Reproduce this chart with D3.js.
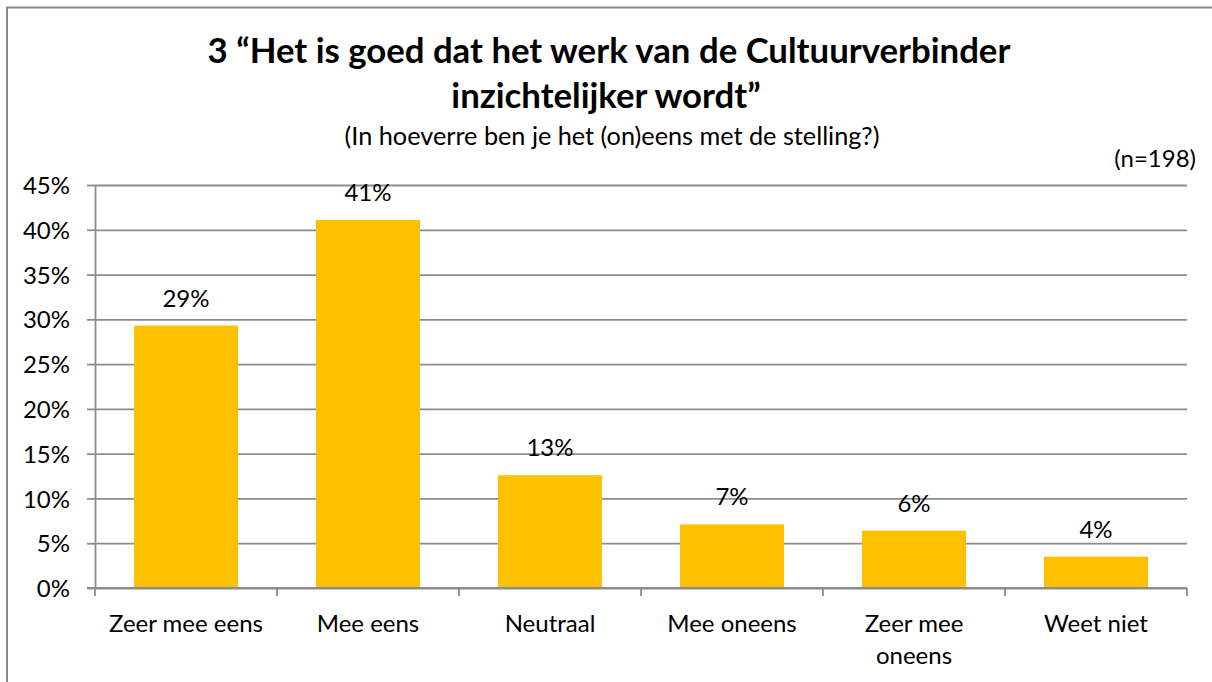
<!DOCTYPE html>
<html>
<head>
<meta charset="utf-8">
<script src="https://cdn.jsdelivr.net/npm/d3@7"></script>
<style>
  html, body { margin: 0; padding: 0; background: #fff; }
  svg { display: block; }
  text { font-family: Lato, "Noto Sans", sans-serif; fill: #000; }
</style>
</head>
<body>
<svg id="chart" width="1212" height="682"></svg>
<script>
// ---- data ----
const categories = ["Zeer mee eens", "Mee eens", "Neutraal", "Mee oneens", "Zeer mee oneens", "Weet niet"];
const values = [29.3, 41.1, 12.6, 7.1, 6.4, 3.5];
const valueLabels = ["29%", "41%", "13%", "7%", "6%", "4%"];
const yTicks = [0, 5, 10, 15, 20, 25, 30, 35, 40, 45];
const titleLines = ["3 \u201cHet is goed dat het werk van de Cultuurverbinder", "inzichtelijker wordt\u201d"];
const subtitle = "(In hoeverre ben je het (on)eens met de stelling?)";
const sampleNote = "(n=198)";

// ---- layout ----
const W = 1212, H = 682;
const plot = { left: 95, right: 1187, top: 185, bottom: 588 };
const axisFont = 24;
const gridColor = "#8c8c8c";
const barColor = "#FFC000";

const svg = d3.select("#chart");

// chart frame
svg.append("rect")
  .attr("x", 7).attr("y", 7.5)
  .attr("width", W + 50).attr("height", H + 50)
  .attr("fill", "none").attr("stroke", "#8a8a8a").attr("stroke-width", 2);

const x = d3.scaleBand()
  .domain(categories)
  .range([plot.left, plot.right])
  .paddingInner(3 / 7)
  .paddingOuter(3 / 14);

const y = d3.scaleLinear().domain([0, 45]).range([plot.bottom, plot.top]);

// gridlines
const grid = svg.append("g")
  .attr("transform", `translate(${plot.left},0)`)
  .call(d3.axisLeft(y).tickValues(yTicks).tickSizeInner(-(plot.right - plot.left)).tickSizeOuter(0).tickFormat(""));
grid.select(".domain").remove();
grid.selectAll("line").attr("stroke", gridColor).attr("stroke-width", 1.8);

// y axis with outward ticks and labels
const yAxis = svg.append("g")
  .attr("transform", `translate(${plot.left},0)`)
  .call(d3.axisLeft(y).tickValues(yTicks).tickSizeInner(8).tickSizeOuter(0).tickPadding(17).tickFormat(d => d + "%"));
yAxis.select(".domain").attr("stroke", gridColor).attr("stroke-width", 1.8);
yAxis.selectAll("line").attr("stroke", gridColor).attr("stroke-width", 1.8);
yAxis.selectAll("text")
  .style("font-size", axisFont + "px")
  .attr("dy", "0.36em")
  .style("font-family", "Lato, 'Noto Sans', sans-serif");

// bars
svg.append("g").selectAll("rect")
  .data(categories)
  .join("rect")
  .attr("x", d => x(d))
  .attr("width", x.bandwidth())
  .attr("y", (d, i) => y(values[i]))
  .attr("height", (d, i) => y(0) - y(values[i]))
  .attr("fill", barColor);

// x axis line and boundary ticks
const half = (x.step() - x.bandwidth()) / 2;
const boundaries = categories.map(d => x(d) - half).concat([x(categories[categories.length - 1]) + x.bandwidth() + half]);
svg.append("line")
  .attr("x1", plot.left - 8).attr("x2", plot.right)
  .attr("y1", y(0)).attr("y2", y(0))
  .attr("stroke", gridColor).attr("stroke-width", 1.8);
svg.append("g").selectAll("line")
  .data(boundaries)
  .join("line")
  .attr("x1", d => d).attr("x2", d => d)
  .attr("y1", y(0)).attr("y2", y(0) + 8)
  .attr("stroke", gridColor).attr("stroke-width", 1.8);

// x category labels (wrapped)
const xAxis = svg.append("g")
  .attr("transform", `translate(0,${plot.bottom})`)
  .call(d3.axisBottom(x).tickSize(0).tickPadding(0));
xAxis.select(".domain").remove();
xAxis.selectAll("text")
  .style("font-size", axisFont + "px")
  .attr("y", 44)
  .attr("dy", 0)
  .each(function (d) {
    const t = d3.select(this);
    const words = d.split(" ");
    t.text(null);
    const maxW = x.step() * 0.93;
    let line = [];
    let lineNo = 0;
    let tspan = t.append("tspan").attr("x", 0).attr("y", 44);
    for (const w of words) {
      line.push(w);
      tspan.text(line.join(" "));
      if (tspan.node().getComputedTextLength() > maxW && line.length > 1) {
        line.pop();
        tspan.text(line.join(" "));
        line = [w];
        lineNo++;
        tspan = t.append("tspan").attr("x", 0).attr("y", 44 + lineNo * 32).text(w);
      }
    }
  });

// value labels
svg.append("g").selectAll("text")
  .data(categories)
  .join("text")
  .attr("x", d => x(d) + x.bandwidth() / 2)
  .attr("y", (d, i) => y(values[i]) - 19)
  .attr("text-anchor", "middle")
  .style("font-size", axisFont + "px")
  .text((d, i) => valueLabels[i]);

// helper to fit text to measured width of reference
function fitFont(sel, target) {
  sel.style("font-size", "30px");
  const w = sel.node().getComputedTextLength();
  const fs = 30 * target / w;
  sel.style("font-size", fs + "px");
  return fs;
}

// title
const t1 = svg.append("text")
  .attr("x", 609).attr("y", 63)
  .attr("text-anchor", "middle")
  .style("font-weight", 700)
  .text(titleLines[0]);
const titleSize = fitFont(t1, 803);
svg.append("text")
  .attr("x", 606).attr("y", 108)
  .attr("text-anchor", "middle")
  .style("font-weight", 700)
  .style("font-size", titleSize + "px")
  .text(titleLines[1]);

// subtitle
const st = svg.append("text")
  .attr("x", 612).attr("y", 145)
  .attr("text-anchor", "middle")
  .text(subtitle);
fitFont(st, 535);

// sample size note
svg.append("text")
  .attr("x", 1196).attr("y", 167)
  .attr("text-anchor", "end")
  .style("font-size", axisFont + "px")
  .text(sampleNote);
</script>
</body>
</html>
